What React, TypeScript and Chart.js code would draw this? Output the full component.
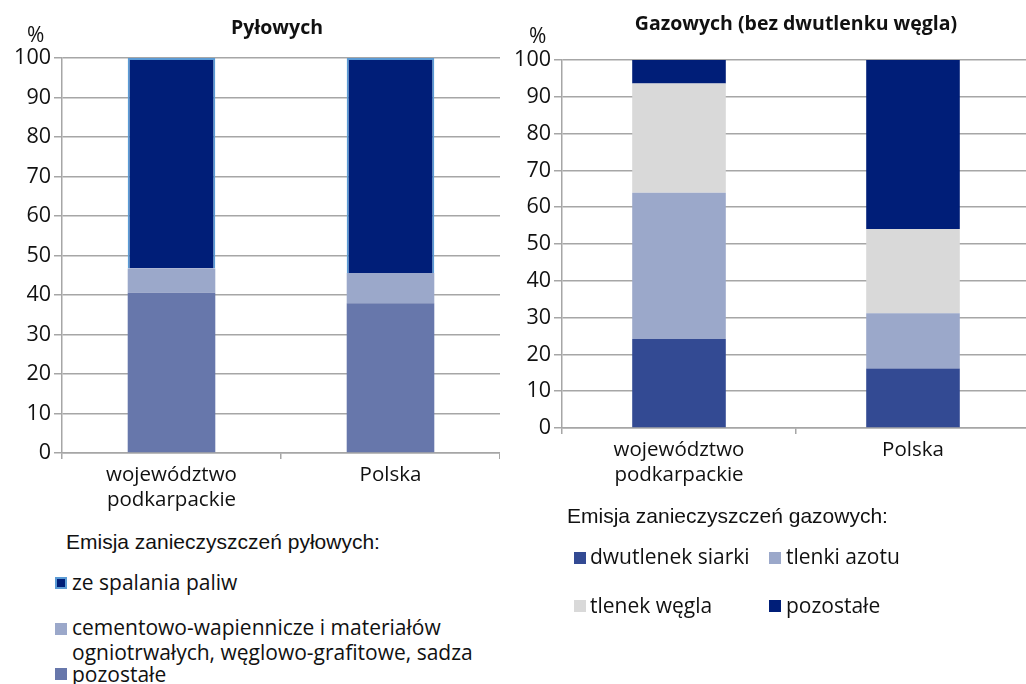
import React, { useEffect, useRef } from "react";
import { Chart, registerables } from "chart.js";

Chart.register(...registerables);

const categories: (string | string[])[] = [["województwo", "podkarpackie"], "Polska"];
const yTicks = [0, 10, 20, 30, 40, 50, 60, 70, 80, 90, 100];

// Pyłowe (dust) – %
const dustOther = [40.6, 37.9];
const dustCement = [6.1, 7.7];
const dustFuel = [53.3, 54.4];

// Gazowe (gas, without CO2) – %
const gasSO2 = [24.2, 16.2];
const gasNOx = [39.7, 15.0];
const gasCO = [29.7, 22.9];
const gasOther = [6.4, 45.9];

const C_NAVY = "#001E78";
const C_MID = "#6777AB";
const C_LIGHT = "#9BA8CA";
const C_SO2 = "#334A93";
const C_GREY = "#D9D9D9";
const C_EDGE = "#5B9BD5";
const GRID = "#A6A6A6";
const FONT = "'Open Sans', sans-serif";

type DS = { label: string; data: number[]; color: string; border?: string };

function Panel(props: {
  datasets: DS[];
  left: number;
  width: number;
  height: number;
  top: number;
  bottom: number;
}) {
  const ref = useRef<HTMLCanvasElement | null>(null);
  useEffect(() => {
    if (!ref.current) return;
    const chart = new Chart(ref.current, {
      type: "bar",
      data: {
        labels: categories,
        datasets: props.datasets.map((d) => ({
          label: d.label,
          data: d.data,
          backgroundColor: d.color,
          borderColor: d.border || d.color,
          borderWidth: d.border ? 2 : 0,
          categoryPercentage: 1,
          barPercentage: 0.4,
        })),
      },
      options: {
        animation: false,
        responsive: false,
        maintainAspectRatio: false,
        layout: { padding: { top: props.top, left: 0, right: 0, bottom: 0 } },
        plugins: { legend: { display: false }, tooltip: { enabled: false }, title: { display: false } },
        scales: {
          x: {
            stacked: true,
            afterFit: (s: any) => {
              s.height = props.height - props.bottom;
            },
            grid: {
              display: true,
              offset: true,
              drawOnChartArea: false,
              drawTicks: true,
              tickLength: 6,
              color: GRID,
              lineWidth: 1.5,
            },
            border: { display: true, color: GRID, width: 1.5 },
            ticks: {
              color: "#111",
              font: { family: FONT, size: 20.5, lineHeight: 1.22 },
              padding: 4,
              maxRotation: 0,
            },
          },
          y: {
            stacked: true,
            min: 0,
            max: 100,
            afterFit: (s: any) => {
              s.width = 62;
            },
            afterBuildTicks: (s: any) => {
              s.ticks = yTicks.map((v) => ({ value: v }));
            },
            grid: { color: GRID, lineWidth: 1.5, tickLength: 8 },
            border: { display: true, color: GRID, width: 1.5 },
            ticks: {
              color: "#111",
              font: { family: FONT, size: 21.5 },
              padding: 3,
            },
          },
        },
      },
    } as any);
    return () => chart.destroy();
  }, []);
  return (
    <canvas
      ref={ref}
      width={props.width}
      height={props.height}
      style={{ position: "absolute", left: props.left, top: 0, width: props.width, height: props.height }}
    />
  );
}

const txt: React.CSSProperties = {
  position: "absolute",
  fontFamily: FONT,
  fontSize: 21,
  color: "#111",
  whiteSpace: "nowrap",
  lineHeight: "24px",
};
const heading: React.CSSProperties = {
  ...txt,
  fontFamily: "'Liberation Sans', Arial, sans-serif",
  fontSize: 21,
};

function Marker(p: { x: number; y: number; color: string; border?: string }) {
  return (
    <div
      style={{
        position: "absolute",
        left: p.x,
        top: p.y,
        width: 12,
        height: 12,
        boxSizing: "border-box",
        background: p.color,
        border: p.border ? `2px solid ${p.border}` : "none",
      }}
    />
  );
}

export default function App() {
  return (
    <div
      style={{
        position: "fixed",
        left: 0,
        top: 0,
        width: 1026,
        height: 684,
        overflow: "hidden",
        background: "#fff",
      }}
    >
      <Panel
        left={0}
        width={500}
        height={520}
        top={58}
        bottom={453}
        datasets={[
          { label: "pozostałe", data: dustOther, color: C_MID },
          { label: "cementowo-wapiennicze i materiałów ogniotrwałych, węglowo-grafitowe, sadza", data: dustCement, color: C_LIGHT },
          { label: "ze spalania paliw", data: dustFuel, color: C_NAVY, border: C_EDGE },
        ]}
      />
      <Panel
        left={500}
        width={530}
        height={510}
        top={60}
        bottom={428}
        datasets={[
          { label: "dwutlenek siarki", data: gasSO2, color: C_SO2 },
          { label: "tlenki azotu", data: gasNOx, color: C_LIGHT },
          { label: "tlenek węgla", data: gasCO, color: C_GREY },
          { label: "pozostałe", data: gasOther, color: C_NAVY },
        ]}
      />

      {/* titles */}
      <div style={{ ...txt, fontWeight: 700, fontSize: 19.5, left: 177, width: 200, textAlign: "center", top: 15 }}>Pyłowych</div>
      <div style={{ ...txt, fontSize: 21, left: 27, top: 22 }}>%</div>
      <div style={{ ...txt, fontWeight: 700, fontSize: 19.5, left: 596, width: 400, textAlign: "center", top: 11 }}>
        Gazowych (bez dwutlenku węgla)
      </div>
      <div style={{ ...txt, fontSize: 21, left: 529, top: 23 }}>%</div>

      {/* left legend */}
      <div style={{ ...heading, left: 66, top: 530 }}>Emisja zanieczyszczeń pyłowych:</div>
      <Marker x={55} y={577} color={C_NAVY} border={C_EDGE} />
      <div style={{ ...txt, left: 72, top: 570 }}>ze spalania paliw</div>
      <Marker x={55} y={623} color={C_LIGHT} />
      <div style={{ ...txt, left: 72, top: 615 }}>cementowo-wapiennicze i materiałów</div>
      <div style={{ ...txt, left: 72, top: 640 }}>ogniotrwałych, węglowo-grafitowe, sadza</div>
      <Marker x={55} y={668} color={C_MID} />
      <div style={{ ...txt, left: 72, top: 662 }}>pozostałe</div>

      {/* right legend */}
      <div style={{ ...heading, left: 567, top: 504 }}>Emisja zanieczyszczeń gazowych:</div>
      <Marker x={574} y={552} color={C_SO2} />
      <div style={{ ...txt, left: 590, top: 544 }}>dwutlenek siarki</div>
      <Marker x={769} y={552} color={C_LIGHT} />
      <div style={{ ...txt, left: 786, top: 544 }}>tlenki azotu</div>
      <Marker x={574} y={600} color={C_GREY} />
      <div style={{ ...txt, left: 590, top: 593 }}>tlenek węgla</div>
      <Marker x={769} y={600} color={C_NAVY} />
      <div style={{ ...txt, left: 786, top: 593 }}>pozostałe</div>
    </div>
  );
}
